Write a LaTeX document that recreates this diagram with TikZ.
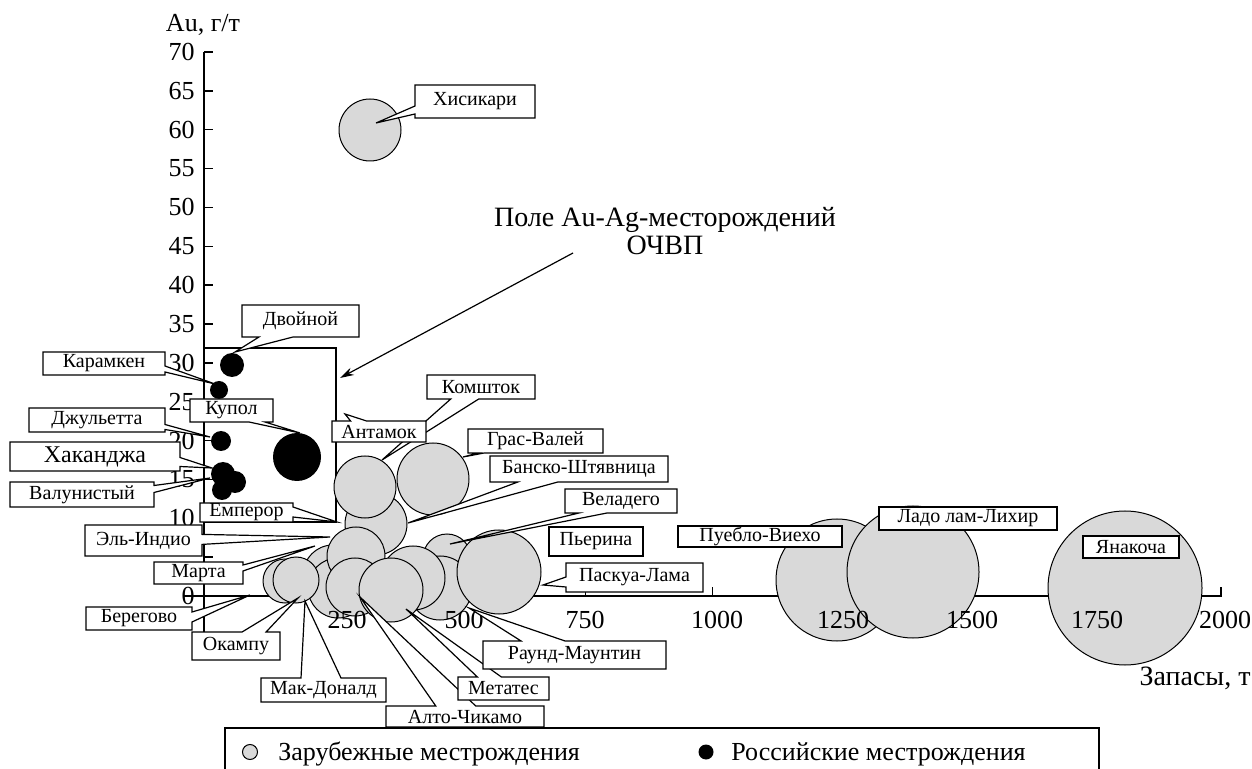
\documentclass[tikz,border=0pt]{standalone}
\usepackage{fontspec}
\setmainfont{Liberation Serif}
\usepackage{tikz}
\usetikzlibrary{arrows.meta,shapes.callouts}
\definecolor{orefill}{HTML}{D9D9D9}
\newcommand{\lblfont}{\fontsize{10}{12}\selectfont}
\newcommand{\tickfont}{\fontsize{13}{15}\selectfont}
\tikzset{
  axisline/.style={draw=black, line width=0.75pt},
  ore/.style={circle, draw=black, fill=orefill, line width=0.5pt, inner sep=0pt, outer sep=0pt},
  rus/.style={circle, fill=black, inner sep=0pt, outer sep=0pt},
  ticklbl/.style={font=\tickfont, inner sep=0pt},
  tag/.style={draw=black, fill=white, line width=0.6pt, inner sep=0pt, font=\lblfont},
  pin/.style={tag, rectangle callout, callout pointer width=#1},
  pin/.default=6pt
}

\begin{document}
\begin{tikzpicture}[x=0.5pt,y=-0.5pt]
  \useasboundingbox (0,0) rectangle (1252,769);

  % field of the OChVP deposits
  \draw[line width=0.6pt] (204,348) rectangle (336,522);

  % axes
  \draw[axisline] (204,52) -- (204,632);
  \draw[axisline] (184,596) -- (1222,596);
  \foreach \v in {0,5,...,70}
    \draw[axisline] (204,{596-7.771*\v}) -- ++(9,0);
  \foreach \v in {250,500,...,2000}
    \draw[axisline] ({204+0.5086*\v},596) -- ++(0,-9);

  % foreign deposits
  \node[ore, minimum size=31pt] (c-hisikari) at (370,130) {};
  \node[ore, minimum size=24pt] (c-veladero) at (447,558) {};
  \node[ore, minimum size=32pt] (c-round) at (440,588) {};
  \node[ore, minimum size=32pt] (c-pierina) at (413,578) {};
  \node[ore, minimum size=30pt] (c-marta) at (333,575) {};
  \node[ore, minimum size=30pt] (c-macdonald) at (338,588) {};
  \node[ore, minimum size=22pt] (c-berego) at (285,581) {};
  \node[ore, minimum size=23pt] (c-okampu) at (296,580) {};
  \node[ore, minimum size=31pt] (c-bansko) at (376,524) {};
  \node[ore, minimum size=31pt] (c-komshtok) at (365,487) {};
  \node[ore, minimum size=36pt] (c-grasvaley) at (433,479) {};
  \node[ore, minimum size=29pt] (c-elindio) at (356,556) {};
  \node[ore, minimum size=29pt] (c-alto) at (355,587) {};
  \node[ore, minimum size=32pt] (c-metates) at (391,590) {};
  \node[ore, minimum size=42pt] (c-paskua) at (499,572) {};
  \node[ore, minimum size=61pt] (c-pueblo) at (837,580) {};
  \node[ore, minimum size=66pt] (c-lihir) at (913,572) {};
  \node[ore, minimum size=77pt] (c-yanacocha) at (1125,588) {};

  % russian deposits
  \node[rus, minimum size=12pt] (c-dvoynoy) at (232,365) {};
  \node[rus, minimum size=9pt] (c-karamken) at (219,390) {};
  \node[rus, minimum size=10pt] (c-julietta) at (221,441) {};
  \node[rus, minimum size=24pt] (c-kupol) at (297,457) {};
  \node[rus, minimum size=12pt] (c-hakandzha) at (223,474) {};
  \node[rus, minimum size=11pt] (c-valunisty) at (235,482) {};
  \node[rus, minimum size=10pt] (c-blob) at (222,490) {};

  % tick labels
  \foreach \v in {0,10,15,20,25,30,35,40,45,50,55,60,65,70}
    \node[ticklbl, anchor=east] (y\v) at (195,{596-7.771*\v}) {\v};
  \foreach \v/\px in {250/347,500/464,750/585,1000/717,1250/843,1500/972,1750/1097,2000/1225}
    \node[ticklbl] (x\v) at (\px,620) {\v};
  \node[ticklbl] (ytitle) at (203,25) {Au, г/т};
  \node[ticklbl, font=\fontsize{14}{16}\selectfont] (xtitle) at (1195,678) {Запасы, т};

  \node[align=center, font=\fontsize{14}{14}\selectfont] (field) at (665,231)
    {Поле Au-Ag-месторождений\\ОЧВП};
  \coordinate (field-from) at (573,253);
  \coordinate (field-to) at (340,378);
  \draw[line width=0.6pt, -{Stealth[length=7pt,width=4pt]}] (field-from) -- (field-to);

  % pointer tips
  \coordinate (t-hisikari) at (376,123);
  \coordinate (t-dvoynoy) at (235,352);
  \coordinate (t-karamken) at (215,384);
  \coordinate (t-kupol) at (300,433);
  \coordinate (t-julietta) at (210,437);
  \coordinate (t-hakandzha) at (212,468);
  \coordinate (t-valunisty) at (210,478);
  \coordinate (t-emperor) at (337,522);
  \coordinate (t-elindio) at (330,537);
  \coordinate (t-marta) at (315,546);
  \coordinate (t-berego) at (250,595);
  \coordinate (t-okampu) at (298,598);
  \coordinate (t-macdonald) at (305,601);
  \coordinate (t-alto) at (360,597);
  \coordinate (t-metates) at (406,609);
  \coordinate (t-round) at (469,608);
  \coordinate (t-paskua) at (543,585);
  \coordinate (t-veladero) at (450,544);
  \coordinate (t-bansko) at (408,523);
  \coordinate (t-grasvaley) at (463,457);
  \coordinate (t-komshtok) at (382,460);
  \coordinate (t-antamok) at (345,414);

  % labels
  \node[pin=4pt, callout absolute pointer={(t-hisikari)}, minimum width=60pt, minimum height=16.5pt] (hisikari) at (475,101.5) {Хисикари};
  \node[pin=17pt, callout absolute pointer={(t-dvoynoy)}, minimum width=58.5pt, minimum height=16pt] (dvoynoy) at (300.5,321) {Двойной};
  \node[pin=3pt, callout absolute pointer={(t-karamken)}, minimum width=61pt, minimum height=11.5pt] (karamken) at (104,363.5) {Карамкен};
  \node[pin=8pt, callout absolute pointer={(t-kupol)}, minimum width=41.5pt, minimum height=11.5pt] (kupol) at (231.5,410.5) {Купол};
  \node[pin=2.5pt, callout absolute pointer={(t-julietta)}, minimum width=68pt, minimum height=12pt] (julietta) at (97,420) {Джульетта};
  \node[pin=4.5pt, callout absolute pointer={(t-hakandzha)}, minimum width=85pt, minimum height=14.5pt, font=\fontsize{12}{14}\selectfont] (hakandzha) at (95,456.5) {Хаканджа};
  \node[pin=3.5pt, callout absolute pointer={(t-valunisty)}, minimum width=72pt, minimum height=12.5pt] (valunisty) at (82,494.5) {Валунистый};
  \node[pin=5pt, callout absolute pointer={(t-emperor)}, minimum width=46.5pt, minimum height=9.5pt] (emperor) at (246.5,512.5) {Емперор};
  \node[pin=5pt, callout absolute pointer={(t-elindio)}, minimum width=58.5pt, minimum height=15.5pt] (elindio) at (143.5,540.5) {Эль-Индио};
  \node[pin=3pt, callout absolute pointer={(t-marta)}, minimum width=44.5pt, minimum height=11pt] (marta) at (198.5,573) {Марта};
  \node[pin=5pt, callout absolute pointer={(t-berego)}, minimum width=53pt, minimum height=11.5pt] (berego) at (139,618.5) {Берегово};
  \node[pin=12pt, callout absolute pointer={(t-okampu)}, minimum width=44pt, minimum height=14pt] (okampu) at (236,646) {Окампу};
  \node[pin=20pt, callout absolute pointer={(t-macdonald)}, minimum width=62.5pt, minimum height=12pt] (macdonald) at (323.5,690) {Мак-Доналд};
  \node[pin=20pt, callout absolute pointer={(t-alto)}, minimum width=79pt, minimum height=10.5pt] (alto) at (465,716.5) {Алто-Чикамо};
  \node[pin=12pt, callout absolute pointer={(t-metates)}, minimum width=45.5pt, minimum height=11.5pt] (metates) at (503.5,688.5) {Метатес};
  \node[pin=22pt, callout absolute pointer={(t-round)}, minimum width=91.5pt, minimum height=14pt] (round) at (574.5,655) {Раунд-Маунтин};
  \node[pin=5pt, callout absolute pointer={(t-paskua)}, minimum width=68.5pt, minimum height=14.5pt] (paskua) at (634.5,577.5) {Паскуа-Лама};
  \node[tag, minimum width=47pt, minimum height=14.5pt] (pierina) at (596,541.5) {Пьерина};
  \node[pin=14pt, callout absolute pointer={(t-veladero)}, minimum width=56pt, minimum height=12pt] (veladero) at (621,501) {Веладего};
  \node[pin=20pt, callout absolute pointer={(t-bansko)}, minimum width=89pt, minimum height=13pt] (bansko) at (579,469) {Банско-Штявница};
  \node[pin=3pt, callout absolute pointer={(t-grasvaley)}, minimum width=67.5pt, minimum height=12pt] (grasvaley) at (535.5,441) {Грас-Валей};
  \node[pin=14pt, callout absolute pointer={(t-komshtok)}, minimum width=54pt, minimum height=12pt] (komshtok) at (481,387) {Комшток};
  \node[pin=8pt, callout absolute pointer={(t-antamok)}, minimum width=47pt, minimum height=10.5pt] (antamok) at (379,431.5) {Антамок};
  \node[tag, minimum width=82pt, minimum height=10.5pt] (pueblo) at (760,536.5) {Пуебло-Виехо};
  \node[tag, minimum width=89pt, minimum height=11.5pt] (lihir) at (968,518.5) {Ладо лам-Лихир};
  \node[tag, minimum width=48pt, minimum height=11pt] (yanacocha) at (1131,547) {Янакоча};

  % legend
  \draw[line width=0.6pt] (225,772) -- (225,728) -- (1099,728) -- (1099,772);
  \node[ore, minimum size=7.5pt] (key-ore) at (250,752) {};
  \node[ticklbl, anchor=base west] (key-ore-txt) at (278,760) {Зарубежные местрождения};
  \node[rus, minimum size=7.5pt] (key-rus) at (706,752) {};
  \node[ticklbl, anchor=base west] (key-rus-txt) at (731,760) {Российские местрождения};
\end{tikzpicture}
\end{document}
